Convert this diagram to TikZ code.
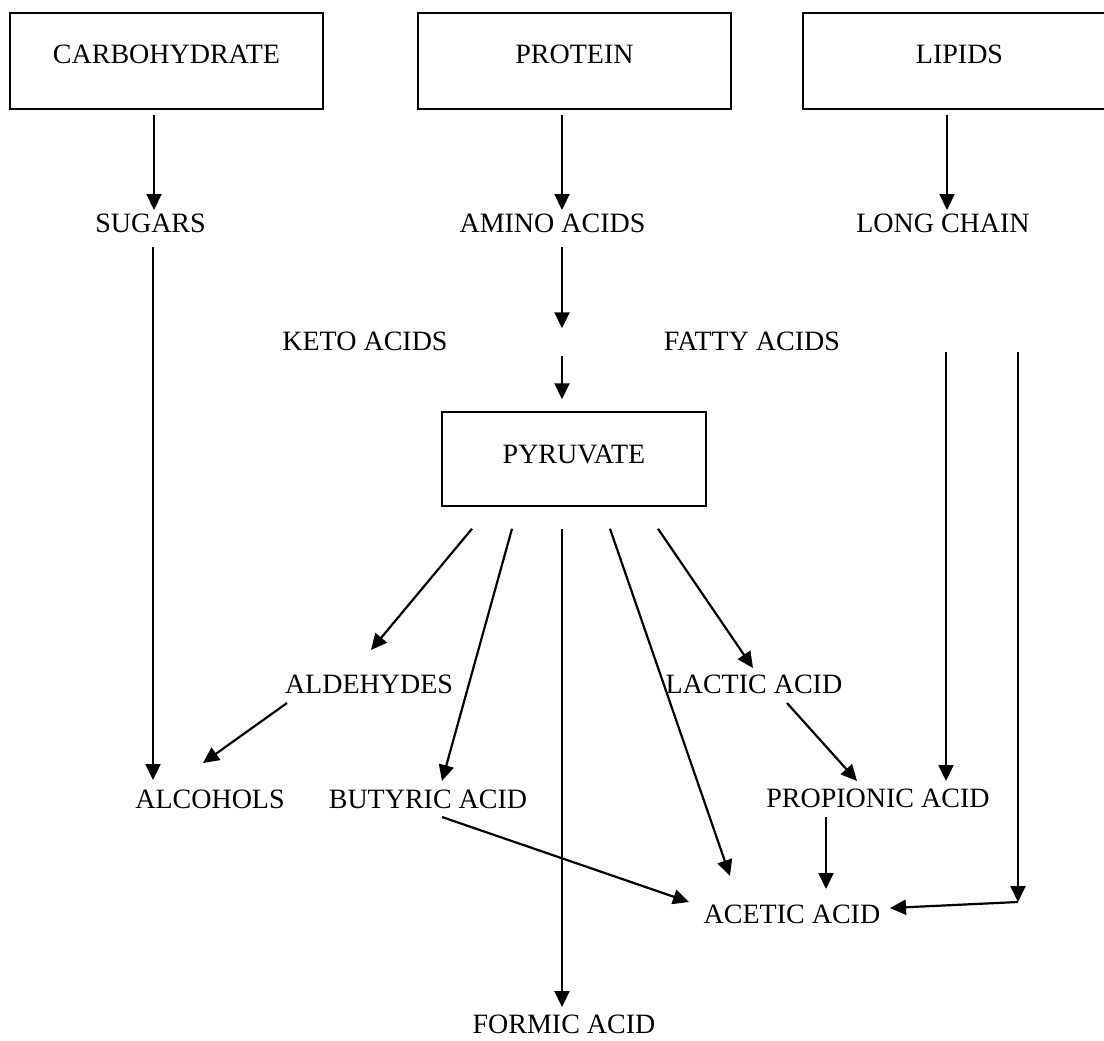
\documentclass[tikz,border=0pt]{standalone}
\usepackage{fontspec}
\setmainfont{Liberation Serif}
\usetikzlibrary{arrows.meta,calc}

\begin{document}
\begin{tikzpicture}[x=1pt,y=-1pt,
  every node/.style={font=\fontsize{28}{34}\selectfont},
  sourcebox/.style={draw,line width=1.5pt,minimum width=313pt,minimum height=96pt,
    inner sep=0pt,text height=19pt,text depth=13pt},
  midbox/.style={draw,line width=1.5pt,minimum width=264pt,minimum height=94pt,
    inner sep=0pt,text height=19pt,text depth=11pt},
  label/.style={inner sep=0pt,anchor=base},
  flow/.style={line width=2.2pt,-{Triangle[length=16pt,width=15pt]}},
  plain/.style={line width=2.2pt}]

\useasboundingbox (0,0) rectangle (1104,1041);
\clip (0,0) rectangle (1104,1041);

% source materials
\node[sourcebox] (carb) at (166.5,61) {CARBOHYDRATE};
\node[sourcebox] (prot) at (574.5,61) {PROTEIN};
\node[sourcebox] (lip)  at (959.5,61) {LIPIDS};

% first breakdown products
\node[label] (sug)   at (150.5,232) {SUGARS};
\node[label] (amino) at (552.5,232) {AMINO ACIDS};
\node[label] (longc) at (943,232)   {LONG CHAIN};
\node[label] (keto)  at (365,350)   {KETO ACIDS};
\node[label] (fatty) at (752,350)   {FATTY ACIDS};

% central intermediate
\node[midbox] (pyr) at (574,459) {PYRUVATE};

% end products
\node[label] (ald)  at (369,693)  {ALDEHYDES};
\node[label] (lac)  at (754,693)  {LACTIC ACID};
\node[label] (alc)  at (210,808)  {ALCOHOLS};
\node[label] (but)  at (428,808)  {BUTYRIC ACID};
\node[label] (prop) at (878,807)  {PROPIONIC ACID};
\node[label] (acet) at (792,923)  {ACETIC ACID};
\node[label] (form) at (564,1033) {FORMIC ACID};

\coordinate (corner) at ($(acet.base)+(226,-21)$);

% hydrolysis
\draw[flow] ($(carb.south)+(-12.5,5)$) -- ($(sug.base)+(3.5,-22)$);
\draw[flow] ($(prot.south)+(-12.5,5)$) -- ($(amino.base)+(9.5,-22)$);
\draw[flow] ($(lip.south)+(-12.5,5)$)  -- ($(longc.base)+(4,-22)$);

% sugars straight to alcohols
\draw[flow] ($(sug.base)+(2.5,15)$) -- ($(alc.base)+(-57,-28)$);

% amino acids via keto acids to pyruvate
\draw[flow] ($(amino.base)+(9.5,15)$) -- ($(pyr.north)+(-12,-83)$);
\draw[flow] ($(pyr.north)+(-12,-55)$) -- ($(pyr.north)+(-12,-12)$);

% pyruvate fan
\draw[flow] ($(pyr.south)+(-102,22)$) -- ($(ald.base)+(2,-43)$);
\draw[flow] ($(pyr.south)+(-62,22)$)  -- ($(but.base)+(14,-27)$);
\draw[flow] ($(pyr.south)+(-12,22)$)  -- ($(form.base)+(-2,-26)$);
\draw[flow] ($(pyr.south)+(36,22)$)   -- ($(acet.base)+(-62,-47)$);
\draw[flow] ($(pyr.south)+(84,22)$)   -- ($(lac.base)+(-1,-25)$);

% secondary conversions
\draw[flow] ($(ald.base)+(-82,10)$) -- ($(alc.base)+(-7,-45)$);
\draw[flow] ($(lac.base)+(33,10)$)  -- ($(prop.base)+(-21,-26)$);
\draw[flow] ($(prop.base)+(-52,10)$) -- ($(acet.base)+(34,-34)$);
\draw[flow] ($(but.base)+(14,9)$)   -- ($(acet.base)+(-103,-21)$);

% long chain fatty acids
\draw[flow] ($(longc.base)+(3,120)$)  -- ($(prop.base)+(68,-26)$);
\draw[flow] ($(longc.base)+(75,120)$) -- (corner);
\draw[flow] (corner) -- ($(acet.base)+(98,-15)$);
\end{tikzpicture}
\end{document}
